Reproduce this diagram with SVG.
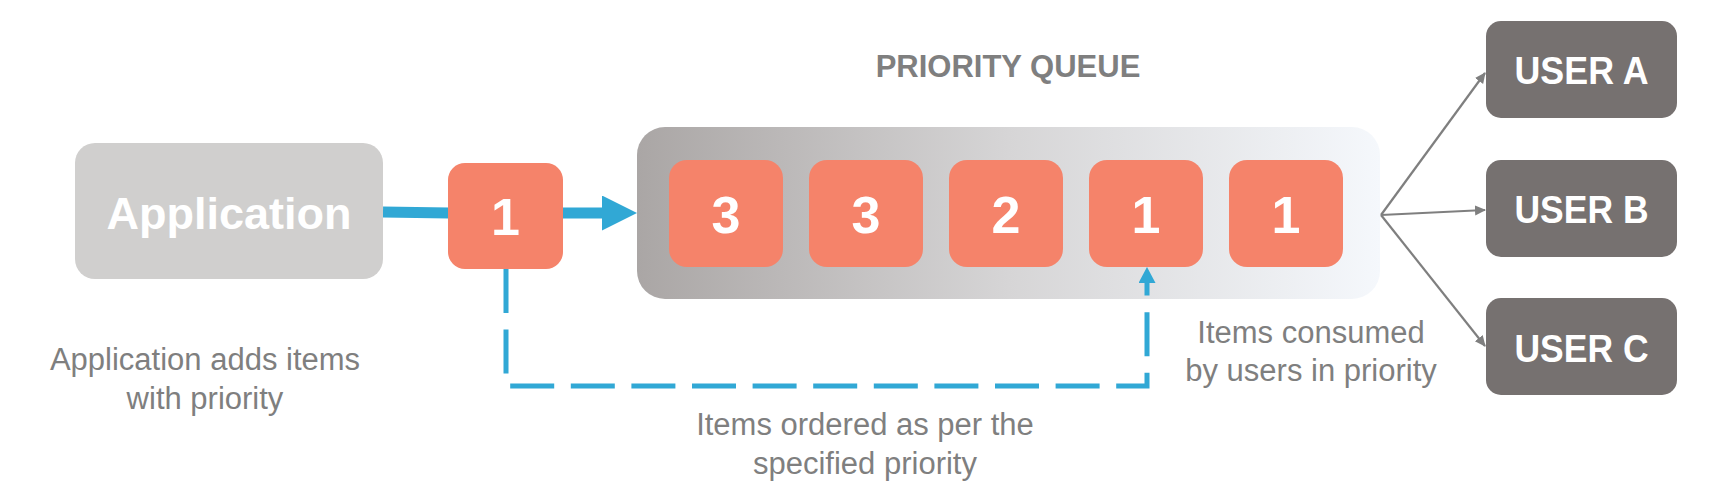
<svg xmlns="http://www.w3.org/2000/svg" width="1713" height="491" viewBox="0 0 1713 491">
<style>
.lbl{font-family:"Liberation Sans",Arial,sans-serif;font-size:31px;fill:#7f7f7f;text-anchor:middle}
.title{font-family:"Liberation Sans",Arial,sans-serif;font-size:31px;font-weight:bold;fill:#7f7f7f;text-anchor:middle}
.item rect{fill:#f5836a}
.num{font-family:"Liberation Sans",Arial,sans-serif;font-size:52px;font-weight:bold;fill:#ffffff;text-anchor:middle}
.user rect{fill:#767170}
.utxt{font-family:"Liberation Sans",Arial,sans-serif;font-size:38px;font-weight:bold;fill:#ffffff;text-anchor:middle}
.gray{stroke:#7f7f7f;stroke-width:2.2;fill:none}
</style>
<defs>
<linearGradient id="qg" x1="0" y1="0" x2="1" y2="0">
<stop offset="0" stop-color="#aaa6a5"/>
<stop offset="0.5" stop-color="#d6d5d6"/>
<stop offset="1" stop-color="#f5f8fc"/>
</linearGradient>
<marker id="bigArrow" markerUnits="userSpaceOnUse" markerWidth="36" markerHeight="36" refX="0" refY="17.5" orient="auto">
<path d="M0,0 L35,17.5 L0,35 z" fill="#31a8d5"/>
</marker>
<marker id="dashArrow" markerUnits="userSpaceOnUse" markerWidth="18" markerHeight="18" refX="0" refY="8.5" orient="auto">
<path d="M0,0 L16,8.5 L0,17 z" fill="#31a8d5"/>
</marker>
<marker id="grayArrow" markerUnits="userSpaceOnUse" markerWidth="12" markerHeight="12" refX="10" refY="5" orient="auto">
<path d="M0,0 L11,5 L0,10 z" fill="#7f7f7f"/>
</marker>
</defs>

<text class="title" x="1008" y="77">PRIORITY QUEUE</text>

<g id="queue">
<rect x="637" y="127" width="743" height="172" rx="28" fill="url(#qg)"/>
</g>

<g id="connectors">
<line x1="383" y1="212" x2="449" y2="213" stroke="#31a8d5" stroke-width="11"/>
<line x1="562" y1="213" x2="602" y2="213" stroke="#31a8d5" stroke-width="11" marker-end="url(#bigArrow)"/>
<path d="M506,269 V386 H1147 V283" fill="none" stroke="#31a8d5" stroke-width="5" stroke-dasharray="44 16.6" marker-end="url(#dashArrow)"/>
<line class="gray" x1="1381" y1="215" x2="1485" y2="73" marker-end="url(#grayArrow)"/>
<line class="gray" x1="1381" y1="215" x2="1485" y2="210" marker-end="url(#grayArrow)"/>
<line class="gray" x1="1381" y1="215" x2="1485" y2="346" marker-end="url(#grayArrow)"/>
</g>

<g id="application">
<rect x="75" y="143" width="308" height="136" rx="20" fill="#d0cfce"/>
<text x="229" y="229" font-family="'Liberation Sans',Arial,sans-serif" font-size="45" font-weight="bold" fill="#ffffff" text-anchor="middle">Application</text>
</g>

<g id="input-item" class="item">
<rect x="448" y="163" width="115" height="106" rx="17"/>
<text class="num" x="505.5" y="235">1</text>
</g>

<g id="item-1" class="item"><rect x="669" y="160" width="114" height="107" rx="18"/><text class="num" x="726" y="233">3</text></g>
<g id="item-2" class="item"><rect x="809" y="160" width="114" height="107" rx="18"/><text class="num" x="866" y="233">3</text></g>
<g id="item-3" class="item"><rect x="949" y="160" width="114" height="107" rx="18"/><text class="num" x="1006" y="233">2</text></g>
<g id="item-4" class="item"><rect x="1089" y="160" width="114" height="107" rx="18"/><text class="num" x="1146" y="233">1</text></g>
<g id="item-5" class="item"><rect x="1229" y="160" width="114" height="107" rx="18"/><text class="num" x="1286" y="233">1</text></g>

<g id="user-a" class="user"><rect x="1486" y="21" width="191" height="97" rx="15"/><text class="utxt" x="1581.5" y="84" textLength="134" lengthAdjust="spacingAndGlyphs">USER A</text></g>
<g id="user-b" class="user"><rect x="1486" y="160" width="191" height="97" rx="15"/><text class="utxt" x="1581.5" y="223" textLength="134" lengthAdjust="spacingAndGlyphs">USER B</text></g>
<g id="user-c" class="user"><rect x="1486" y="298" width="191" height="97" rx="15"/><text class="utxt" x="1581.5" y="362" textLength="134" lengthAdjust="spacingAndGlyphs">USER C</text></g>

<g id="labels">
<text class="lbl" x="205" y="370" font-size="29">Application adds items</text>
<text class="lbl" x="205" y="409" font-size="29">with priority</text>
<text class="lbl" x="865" y="435">Items ordered as per the</text>
<text class="lbl" x="865" y="474">specified priority</text>
<text class="lbl" x="1311" y="343">Items consumed</text>
<text class="lbl" x="1311" y="381">by users in priority</text>
</g>
</svg>
